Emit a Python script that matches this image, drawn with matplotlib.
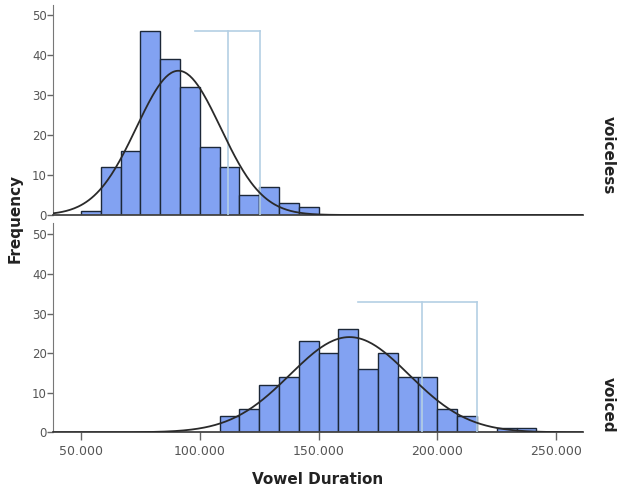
import numpy as np
import matplotlib
matplotlib.use('Agg')
from matplotlib import pyplot as plt

# histogram bins shared by both panels
bin_start = 50.0
bin_width = 25.0 / 3

voiceless_counts = [1, 12, 16, 46, 39, 32, 17, 12, 5, 7, 3, 2]
voiced_offset = 7  # voiced bins start at bin 7 (108.333)
voiced_counts = [4, 6, 12, 14, 23, 20, 26, 16, 20, 14, 14, 6, 4, 0, 1, 1]

# normal curve parameters
voiceless_mean, voiceless_sd = 91.0, 17.7
voiced_mean, voiced_sd = 163.0, 25.0

# light blue bracket lines: (left, mid, right, height)
voiceless_bracket = (98.0, 111.7, 125.3, 46.0)
voiced_bracket = (166.7, 193.6, 216.5, 33.0)

x_ticks = [50, 100, 150, 200, 250]
x_tick_labels = ['50.000', '100.000', '150.000', '200.000', '250.000']
y_ticks = [0, 10, 20, 30, 40, 50]

bar_color = '#82a2f2'
edge_color = '#1c2838'
ref_color = '#b4cfe4'
tick_color = '#555555'

fig = plt.figure(figsize=(6.18, 4.91), dpi=100)
ax_top = fig.add_axes([0.0858, 0.5621, 0.8576, 0.4277])
ax_bot = fig.add_axes([0.0858, 0.1195, 0.8576, 0.4263])

xs = np.linspace(38.2, 261.3, 400)


def draw_panel(ax, counts, offset, mean, sd, bracket, ytop):
    lefts = [bin_start + (offset + i) * bin_width for i in range(len(counts))]
    ax.bar(lefts, counts, width=bin_width, align='edge', color=bar_color,
           edgecolor=edge_color, linewidth=1.0, zorder=2)
    n = sum(counts)
    curve = n * bin_width / (sd * np.sqrt(2 * np.pi)) * np.exp(-0.5 * ((xs - mean) / sd) ** 2)
    ax.plot(xs, curve, color='#2a2a2a', lw=1.3, zorder=4)
    l, m, r, h = bracket
    ax.plot([l, r], [h, h], color=ref_color, lw=1.2, zorder=3)
    ax.plot([m, m], [0, h], color=ref_color, lw=1.2, zorder=3)
    ax.plot([r, r], [0, h], color=ref_color, lw=1.2, zorder=3)
    ax.set_xlim(38.2, 261.3)
    ax.set_ylim(0, ytop)
    ax.set_yticks(y_ticks)
    ax.tick_params(axis='y', direction='out', length=4, width=1, colors='#666666',
                   labelcolor=tick_color, labelsize=8.5, pad=0.5)
    for s in ['top', 'right']:
        ax.spines[s].set_visible(False)
    ax.spines['left'].set_color('#777777')
    ax.spines['bottom'].set_color('#444444')
    ax.spines['bottom'].set_linewidth(1.3)
    ax.patch.set_alpha(0)


draw_panel(ax_top, voiceless_counts, 0, voiceless_mean, voiceless_sd, voiceless_bracket, 52.5)
draw_panel(ax_bot, voiced_counts, voiced_offset, voiced_mean, voiced_sd, voiced_bracket, 52.9)

ax_top.set_xticks([])
ax_bot.set_xticks(x_ticks)
ax_bot.set_xticklabels(x_tick_labels)
ax_bot.tick_params(axis='x', direction='out', length=6, width=1, colors='#666666',
                   labelcolor=tick_color, labelsize=9, pad=3)

fig.text(15 / 618, 1 - 218 / 491, 'Frequency', rotation=90, ha='center', va='center',
         fontsize=11, fontweight='bold', color='#222222')
fig.text(318 / 618, 1 - 480 / 491, 'Vowel Duration', ha='center', va='center',
         fontsize=11, fontweight='bold', color='#222222')
fig.text(608 / 618, 1 - 155 / 491, 'voiceless', rotation=-90, ha='center', va='center',
         fontsize=11, fontweight='bold', color='#222222')
fig.text(608 / 618, 1 - 405 / 491, 'voiced', rotation=-90, ha='center', va='center',
         fontsize=11, fontweight='bold', color='#222222')

plt.savefig('out.png', dpi=100)
